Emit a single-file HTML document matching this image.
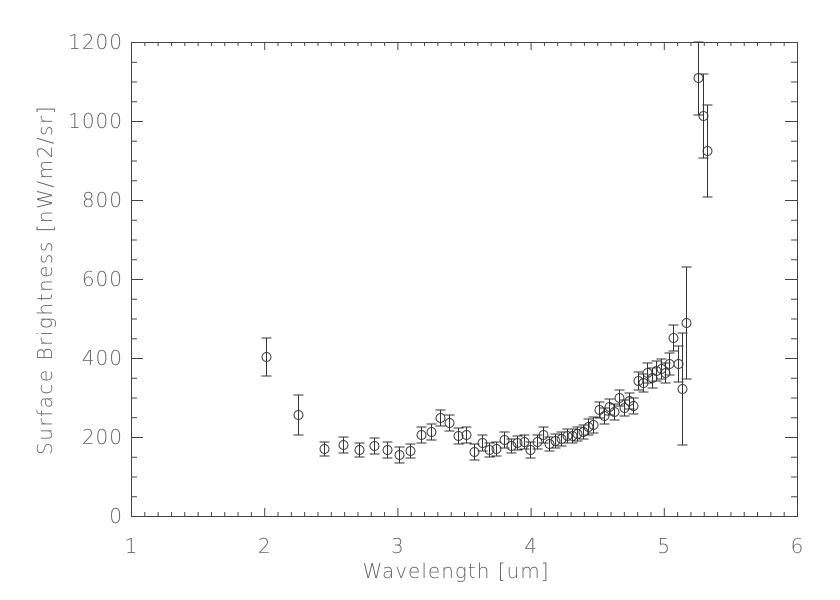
<!DOCTYPE html>
<html><head><style>body{margin:0;background:#fff}svg{display:block}</style></head><body>
<svg width="840" height="600" xmlns="http://www.w3.org/2000/svg" font-family="'DejaVu Sans','Liberation Sans',sans-serif" font-weight="200">
<g id="ax" stroke="#444" stroke-width="1" fill="none"></g>
<g id="pts" stroke="#333" stroke-width="1" fill="none"></g>
<g id="lbl" fill="#666" font-size="20"></g>
<text x="456" y="578" font-size="20" fill="#666" text-anchor="middle" letter-spacing="1">Wavelength [um]</text>
<text transform="translate(52,280) rotate(-90)" font-size="20" fill="#666" text-anchor="middle" letter-spacing="1.5">Surface Brightness [nW/m2/sr]</text>
<script>
var ns="http://www.w3.org/2000/svg";
function el(p,t,a){var e=document.createElementNS(ns,t);for(var k in a)e.setAttribute(k,a[k]);p.appendChild(e);return e;}
var ax=document.getElementById('ax'),L=131,R=797,T=42,B=516;
el(ax,'rect',{x:L+.5,y:T+.5,width:R-L,height:B-T});
for(var i=0;i<=50;i++){var x=L+.5+(R-L)*i/50,len=i%10==0?8:4;
 el(ax,'line',{x1:x,y1:B,x2:x,y2:B-len});el(ax,'line',{x1:x,y1:T,x2:x,y2:T+len});}
for(var i=0;i<=24;i++){var y=B+.5-(B-T)*i/24,len=i%4==0?12:6;
 el(ax,'line',{x1:L,y1:y,x2:L+len,y2:y});el(ax,'line',{x1:R,y1:y,x2:R-len,y2:y});}
var lb=document.getElementById('lbl');
for(var i=0;i<=5;i++){var t=el(lb,'text',{x:L+(R-L)*i/5,y:553,'text-anchor':'middle'});t.textContent=i+1;}
for(var i=0;i<=6;i++){var t=el(lb,'text',{x:123,y:B+7-(B-T)*i/6,'text-anchor':'end','letter-spacing':'1'});t.textContent=i*200;}
var d=[[266,357,19],[298,415,20],[324,449,7],[343,445,8],[359,450,7],[374,446,8],[387,450,8],[399,455,8],[410,451,7],[421,435,8],[431,432,8],[440,418,8],[449,423,8],[458,436,8],[466,435,8],[474,452,8],[482,443,8],[489,450,7],[496,449,7],[504,440,8],[511,446,7],[517,443,7],[524,442,7],[530,450,8],[537,442,7],[543,435,8],[549,444,7],[555,441,7],[561,439,7],[567,436,7],[572,436,7],[577,434,7],[583,432,7],[588,427,8],[593,425,8],[599,410,8],[604,416,8],[609,407,8],[614,412,8],[619,398,8],[624,408,8],[629,401,8],[633,406,8],[638,381,9],[643,383,9],[647,373,10],[652,378,10],[656,371,10],[661,369,10],[665,373,10],[669,364,11],[673,338,13],[678,364,18],[682,389,56],[686,323,56],[698,78,37],[703,116,42],[707,151,46]];
var g=document.getElementById('pts');
d.forEach(function(p){var x=p[0]+.5,y=p[1],e=p[2];var t=Math.max(y-e,T);
 el(g,'line',{x1:x,y1:t,x2:x,y2:y+e});el(g,'line',{x1:x-5,y1:t,x2:x+5,y2:t});el(g,'line',{x1:x-5,y1:y+e,x2:x+5,y2:y+e});
 el(g,'circle',{cx:x,cy:y,r:4.5,fill:'none'});});
</script>
</svg>
</body></html>
